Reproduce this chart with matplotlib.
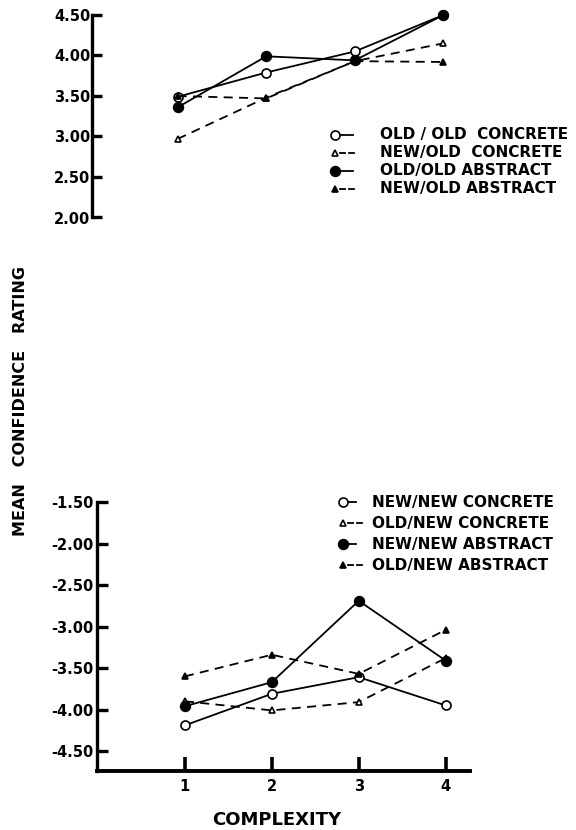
import matplotlib
matplotlib.use("Agg")
import matplotlib.pyplot as plt

# complexity levels on the x axis
complexity = [1, 2, 3, 4]

# top panel: old items
old_old_concrete = [3.49, 3.79, 4.05, 4.50]
new_old_concrete = [2.97, 3.48, 3.93, 4.15]
old_old_abstract = [3.36, 3.99, 3.94, 4.50]
new_old_abstract = [3.50, 3.47, 3.93, 3.92]
top_ticks = [2.00, 2.50, 3.00, 3.50, 4.00, 4.50]
top_labels = ["OLD / OLD  CONCRETE", "NEW/OLD  CONCRETE", "OLD/OLD ABSTRACT", "NEW/OLD ABSTRACT"]

# bottom panel: new items
new_new_concrete = [-4.19, -3.81, -3.61, -3.95]
old_new_concrete = [-3.90, -4.01, -3.91, -3.38]
new_new_abstract = [-3.96, -3.67, -2.69, -3.41]
old_new_abstract = [-3.60, -3.34, -3.57, -3.04]
bottom_ticks = [-4.50, -4.00, -3.50, -3.00, -2.50, -2.00, -1.50]
bottom_labels = ["NEW/NEW CONCRETE", "OLD/NEW CONCRETE", "NEW/NEW ABSTRACT", "OLD/NEW ABSTRACT"]

W, H = 576, 830
fig = plt.figure(figsize=(W / 100, H / 100), dpi=100)
fig.patch.set_facecolor("white")


def frac(x0, y0, x1, y1):
    # pixel box -> figure fraction rect
    return [x0 / W, 1 - y1 / H, (x1 - x0) / W, (y1 - y0) / H]


lw = 1.3
dash = (5, 3.5)
styles = [
    dict(marker="o", ls="-", mfc="white", ms=6.5),
    dict(marker="^", ls="--", mfc="white", ms=5),
    dict(marker="o", ls="-", mfc="black", ms=7),
    dict(marker="^", ls="--", mfc="black", ms=5),
]

# ---- top panel
ax1 = fig.add_axes(frac(91.7, 15, 470, 217.5))
for ys, st in zip([old_old_concrete, new_old_concrete, old_old_abstract, new_old_abstract], styles):
    line, = ax1.plot(complexity, ys, color="black", lw=lw, marker=st["marker"], ls=st["ls"],
                     mfc=st["mfc"], mec="black", ms=st["ms"], mew=1.2, clip_on=False)
    if st["ls"] == "--":
        line.set_dashes(dash)
ax1.set_xlim(0.03, 4.3)
ax1.set_ylim(2.0, 4.5)
ax1.set_yticks(top_ticks)
ax1.set_yticklabels(["%.2f" % t for t in top_ticks], fontsize=10.5, fontweight="bold")
ax1.set_xticks([])
for s in ["top", "right", "bottom"]:
    ax1.spines[s].set_visible(False)
ax1.spines["left"].set_linewidth(2.4)
ax1.tick_params(axis="y", direction="in", length=7, width=2.4, pad=1)
ax1.patch.set_alpha(0)

# ---- bottom panel
ax2 = fig.add_axes(frac(96.7, 502, 470, 771))
for ys, st in zip([new_new_concrete, old_new_concrete, new_new_abstract, old_new_abstract], styles):
    line, = ax2.plot(complexity, ys, color="black", lw=lw, marker=st["marker"], ls=st["ls"],
                     mfc=st["mfc"], mec="black", ms=st["ms"], mew=1.2, clip_on=False)
    if st["ls"] == "--":
        line.set_dashes(dash)
ax2.set_xlim(-0.015, 4.28)
ax2.set_ylim(-4.74, -1.5)
ax2.set_yticks(bottom_ticks)
ax2.set_yticklabels(["-%.2f" % abs(t) for t in bottom_ticks], fontsize=10.5, fontweight="bold")
ax2.set_xticks(complexity)
ax2.set_xticklabels(["1", "2", "3", "4"], fontsize=10.5, fontweight="bold")
for s in ["top", "right"]:
    ax2.spines[s].set_visible(False)
ax2.spines["left"].set_linewidth(2.4)
ax2.spines["bottom"].set_linewidth(2.8)
ax2.tick_params(axis="y", direction="in", length=8, width=2.4, pad=2)
ax2.tick_params(axis="x", direction="in", length=10, width=2.6, pad=6)
ax2.patch.set_alpha(0)

# ---- hand-drawn style legends on an overlay
ov = fig.add_axes([0, 0, 1, 1])
ov.set_xlim(0, W)
ov.set_ylim(H, 0)
ov.axis("off")


def legend_rows(labels, rows, xm, xend, xt):
    for lab, y, st in zip(labels, rows, styles):
        if st["ls"] == "-":
            ov.plot([xm, xend], [y, y], color="black", lw=lw)
        else:
            ov.plot([xm + 5, xm + 10], [y, y], color="black", lw=lw)
            ov.plot([xm + 14, xm + 19], [y, y], color="black", lw=lw)
        ov.plot([xm], [y], marker=st["marker"], mfc=st["mfc"], mec="black",
                ms=st["ms"], mew=1.2, color="black")
        ov.text(xt, y, lab, fontsize=11, fontweight="bold", va="center", ha="left")


legend_rows(top_labels, [135, 153, 171, 189], 335, 353, 380)
legend_rows(bottom_labels, [502, 523, 544, 565], 343, 356, 372)

fig.text(21 / W, 1 - 401 / H, "MEAN   CONFIDENCE   RATING", rotation=90,
         ha="center", va="center", fontsize=11.5, fontweight="bold")
fig.text(277 / W, 1 - 820 / H, "COMPLEXITY", ha="center", va="center",
         fontsize=13, fontweight="bold")

fig.savefig("out.png", dpi=100, facecolor="white")
